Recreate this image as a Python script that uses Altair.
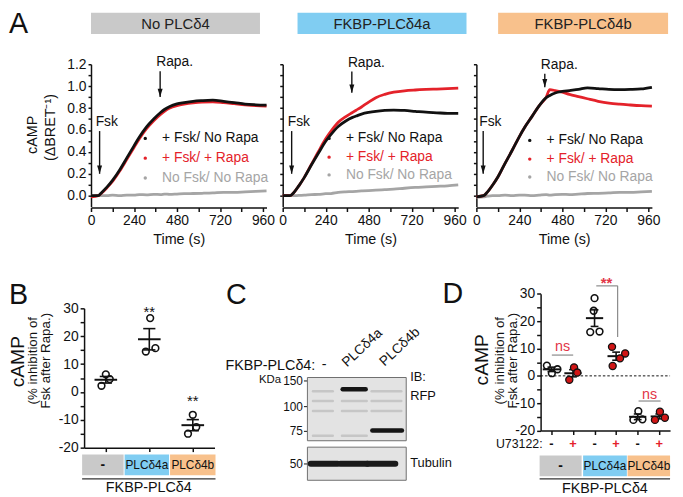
import altair as alt
import pandas as pd

FONT = "Liberation Sans"
W, H = 675, 489
ONE = alt.Data(values=[{"k": 0}])

BLACK = "#111111"
RED = "#e4222a"
LGRAY = "#a5a5a5"
BOX_GRAY = "#c9c9c9"
BOX_BLUE = "#80cdf2"
BOX_ORANGE = "#f8c18c"
FILL_RED = "#d01515"
SIG_RED = "#e23648"


def X(px):
    return px - 8


def Y(py):
    return py - 8


# ================= DATA =================
# Panel A: cAMP time courses (ΔBRET⁻¹) vs time (s)
time_s = [0, 40, 60, 90, 120, 160, 200, 240, 270, 310, 350, 390, 410, 440, 480, 520, 570, 620, 680, 740, 800, 860, 920, 980]
a1_fsk_norapa = [0.0, 0.0, 0.03, 0.08, 0.14, 0.235, 0.345, 0.455, 0.535, 0.628, 0.70, 0.762, 0.787, 0.815, 0.838, 0.85, 0.862, 0.868, 0.872, 0.862, 0.85, 0.836, 0.83, 0.827]
a1_fsk_rapa = [-0.01, 0.0, 0.025, 0.075, 0.13, 0.225, 0.332, 0.44, 0.52, 0.612, 0.685, 0.745, 0.77, 0.80, 0.822, 0.836, 0.848, 0.855, 0.857, 0.85, 0.84, 0.83, 0.822, 0.818]
a1_nofsk = [-0.005, 0.0, 0.0, 0.0, 0.005, 0.0, 0.005, 0.005, 0.01, 0.008, 0.012, 0.01, 0.015, 0.012, 0.015, 0.018, 0.02, 0.022, 0.025, 0.03, 0.03, 0.035, 0.04, 0.045]
a2_fsk_norapa = [0.0, 0.0, 0.025, 0.09, 0.165, 0.28, 0.39, 0.497, 0.56, 0.632, 0.68, 0.715, 0.727, 0.745, 0.76, 0.77, 0.778, 0.782, 0.778, 0.77, 0.762, 0.757, 0.752, 0.752]
a2_fsk_rapa = [0.0, 0.0, 0.025, 0.09, 0.165, 0.285, 0.405, 0.52, 0.59, 0.67, 0.72, 0.76, 0.78, 0.81, 0.855, 0.895, 0.925, 0.945, 0.958, 0.965, 0.97, 0.974, 0.978, 0.982]
a2_nofsk = [0.0, 0.0, 0.0, 0.003, 0.005, 0.01, 0.012, 0.018, 0.02, 0.03, 0.035, 0.038, 0.04, 0.043, 0.047, 0.05, 0.055, 0.06, 0.068, 0.075, 0.08, 0.085, 0.09, 0.098]
a3_fsk_norapa = [-0.01, 0.0, 0.03, 0.095, 0.17, 0.295, 0.415, 0.54, 0.625, 0.722, 0.82, 0.895, 0.915, 0.938, 0.952, 0.96, 0.97, 0.985, 0.978, 0.97, 0.968, 0.97, 0.975, 0.99]
a3_fsk_rapa = [-0.01, 0.0, 0.03, 0.095, 0.17, 0.295, 0.415, 0.54, 0.625, 0.722, 0.82, 0.90, 0.968, 0.96, 0.945, 0.925, 0.905, 0.885, 0.862, 0.845, 0.835, 0.828, 0.822, 0.818]
a3_nofsk = [-0.015, -0.01, -0.005, 0.0, 0.0, 0.005, 0.0, 0.005, 0.005, 0.0, 0.005, 0.01, 0.005, 0.01, 0.012, 0.01, 0.015, 0.02, 0.022, 0.025, 0.03, 0.03, 0.035, 0.04]

a_headers = ["No PLCδ4", "FKBP-PLCδ4a", "FKBP-PLCδ4b"]
series_names = ["+ Fsk/ No Rapa", "+ Fsk/ + Rapa", "No Fsk/ No Rapa"]
fsk_time = [48, 50, 38]
rapa_time = [386, 386, 382]
fsk_arrow_top = [0.59, 0.59, 0.59]
fsk_arrow_tip = [0.2, 0.2, 0.2]
rapa_arrow_top = [1.137, 1.134, 1.113]
rapa_arrow_tip = [0.90, 0.94, 0.99]
legend_t = [303, 259, 298]
legend_v = [[0.523, 0.343, 0.162], [0.523, 0.352, 0.19], [0.505, 0.334, 0.171]]

# Panel B: % inhibition, 3 groups
b_group = [0, 0, 0, 1, 1, 1, 2, 2, 2]
b_offset = [0.0, -0.10, 0.09, 0.02, -0.08, 0.14, 0.0, -0.11, 0.08]
b_value = [6.3, 2.2, 4.6, 26.5, 14.5, 15.7, -8.2, -15.0, -12.6]
b_sig_group = [1, 2]
b_sig_y = [29.8, -2.3]
box_labels = ["-", "PLCδ4a", "PLCδ4b"]

# Panel C: western blot (lane units 0-3, kDa)
c_ladder_kda = [75, 100, 150]
c_rfp_start = [1.07, 1.97]
c_rfp_end = [1.77, 2.87]
c_rfp_kda = [133, 75.3]
c_faint_start = [0.17, 0.17, 0.17, 0.17, 1.05, 1.05, 1.05, 1.95, 1.95, 1.95]
c_faint_end = [0.77, 0.77, 0.77, 0.77, 1.80, 1.80, 1.80, 2.85, 2.85, 2.85]
c_faint_kda = [129, 110, 95, 70.5, 110, 95, 70.5, 129, 110, 95]
c_tub_start = [0.10, 1.00, 1.82]
c_tub_end = [0.92, 1.82, 2.67]
c_tub_kda = [50, 50, 50]

# Panel D: % inhibition, 6 groups (-/+ U73122)
d_group = [0, 0, 0, 1, 1, 1, 2, 2, 2, 2, 3, 3, 3, 3, 4, 4, 4, 5, 5, 5]
d_offset = [-0.21, 0.02, 0.28, 0.05, -0.17, 0.20, 0.0, -0.04, -0.20, 0.23, -0.19, 0.42, 0.18, -0.16, 0.03, -0.20, 0.22, 0.03, -0.20, 0.26]
d_value = [3.75, 0.97, 2.42, 3.1, -1.44, 1.2, 28.4, 23.8, 16.0, 16.2, 10.6, 8.2, 6.4, 3.6, -12.9, -16.1, -15.9, -13.1, -16.1, -15.3]
d_u73122 = ["-", "+", "-", "+", "-", "+"]


# ================= HELPERS =================
def px_text(x, y, s, size, align="center", baseline="middle", color=BLACK, angle=0, weight="normal"):
    return alt.Chart(ONE).mark_text(
        text=s, font=FONT, fontSize=size, align=align, baseline=baseline,
        color=color, angle=angle, fontWeight=weight
    ).encode(x=alt.value(X(x)), y=alt.value(Y(y)))


def px_rect(x1, y1, x2, y2, fill):
    return alt.Chart(ONE).mark_rect(fill=fill).encode(
        x=alt.value(X(x1)), x2=alt.value(X(x2)), y=alt.value(Y(y1)), y2=alt.value(Y(y2)))


def px_rule(x1, y1, x2, y2, color, width):
    return alt.Chart(ONE).mark_rule(color=color, strokeWidth=width).encode(
        x=alt.value(X(x1)), x2=alt.value(X(x2)), y=alt.value(Y(y1)), y2=alt.value(Y(y2)))


ARROW = "M-0.6,-2L0.6,-2L0,0Z"
HYPHEN_LABEL = "datum.value % 10 === 0 ? '' + datum.value : ''"
layers = []

# ================= PANEL A =================
A_X0 = [92, 286, 482]
PX_PER_S = 174 / 960
a_curves = [
    (a1_fsk_norapa, a1_fsk_rapa, a1_nofsk),
    (a2_fsk_norapa, a2_fsk_rapa, a2_nofsk),
    (a3_fsk_norapa, a3_fsk_rapa, a3_nofsk),
]
header_boxes = [(92, 263), (301, 472), (504, 676)]
header_cols = [BOX_GRAY, BOX_BLUE, BOX_ORANGE]
for k in range(3):
    x1, x2 = header_boxes[k]
    layers.append(px_rect(x1, 10, x2, 31.5, header_cols[k]))
    layers.append(px_text((x1 + x2) / 2, 21, a_headers[k], 15, color="#222222"))

for k in range(3):
    x0 = A_X0[k]
    xs = alt.Scale(domain=[0, 980], range=[X(x0), X(x0) + 980 * PX_PER_S], nice=False, zero=False)
    ys = alt.Scale(domain=[-0.1, 1.2], range=[Y(206.1), Y(62)], nice=False, zero=False)
    xax = alt.Axis(orient="bottom", offset=Y(207) - H, values=list(range(0, 961, 120)),
                   labelExpr="datum.value % 240 === 0 ? datum.label : ''",
                   title="Time (s)", titlePadding=5, labelFlush=False, labelOverlap=False,
                   tickSize=4, labelPadding=2)
    yax = alt.Axis(orient="left", offset=-X(x0), values=[round(0.1 * i, 1) for i in range(13)],
                   labels=(k == 0), format=".1f",
                   labelExpr="round(datum.value * 10) % 2 === 0 ? datum.label : ''",
                   title=None, labelOverlap=False, tickSize=3, labelPadding=2)

    def XA(f):
        return alt.X(f, scale=xs, axis=xax)

    def YA(f):
        return alt.Y(f, scale=ys, axis=yax)

    sub = []
    black, red, gray = a_curves[k]
    for vals, col in [(gray, LGRAY), (red, RED), (black, BLACK)]:
        df = pd.DataFrame({"t": time_s, "v": vals})
        sub.append(alt.Chart(df).mark_line(color=col, strokeWidth=2.8, interpolate="monotone")
                   .encode(x=XA("t:Q"), y=YA("v:Q")))
    ev = pd.DataFrame({
        "t": [fsk_time[k], rapa_time[k]],
        "top": [fsk_arrow_top[k], rapa_arrow_top[k]],
        "tip": [fsk_arrow_tip[k], rapa_arrow_tip[k]],
        "label": ["Fsk", "Rapa."],
    })
    sub.append(alt.Chart(ev).mark_rule(color=BLACK, strokeWidth=1.4)
               .encode(x=XA("t:Q"), y=YA("top:Q"), y2="tip:Q"))
    sub.append(alt.Chart(ev).mark_point(shape=ARROW, filled=True, size=70, color=BLACK, opacity=1)
               .encode(x=XA("t:Q"), y=YA("tip:Q")))
    sub.append(alt.Chart(ev).mark_text(font=FONT, fontSize=14, align="left", baseline="middle",
                                       dx=-4, dy=-9, color=BLACK)
               .encode(x=XA("t:Q"), y=YA("top:Q"), text="label:N"))
    lg = pd.DataFrame({"t": [legend_t[k]] * 3, "v": legend_v[k], "label": series_names})
    cscale = alt.Scale(domain=series_names, range=[BLACK, RED, LGRAY])
    sub.append(alt.Chart(lg).mark_point(filled=True, size=12, opacity=1)
               .encode(x=XA("t:Q"), y=YA("v:Q"), color=alt.Color("label:N", scale=cscale, legend=None)))
    sub.append(alt.Chart(lg).mark_text(font=FONT, fontSize=14, align="left", baseline="middle", dx=17)
               .encode(x=XA("t:Q"), y=YA("v:Q"), text="label:N",
                       color=alt.Color("label:N", scale=cscale, legend=None)))
    layers.append(alt.layer(*sub))

layers.append(px_text(33, 133.5, "cAMP", 14.5, angle=270))
layers.append(px_text(52, 126, "(ΔBRET⁻¹)", 14.5, angle=270))
layers.append(px_text(9, 30, "A", 29, align="left", baseline="alphabetic"))


# ================= PANEL B / D helpers =================
def dot_panel(groups, offsets, values, xdom, xr, yr, mean_half, cap_half, red_odd):
    xs = alt.Scale(domain=xdom, range=[X(xr[0]), X(xr[1])], nice=False, zero=False)
    ys = alt.Scale(domain=[-20, 30], range=[Y(yr[0]), Y(yr[1])], nice=False, zero=False)
    ng = xdom[1] - xdom[0]
    xax = alt.Axis(orient="bottom", offset=Y(yr[0]) - H, values=list(range(int(ng))),
                   labels=False, title=None, tickSize=4)
    yax = alt.Axis(orient="left", offset=-X(xr[0]), values=list(range(-20, 31, 5)),
                   labelExpr=HYPHEN_LABEL,
                   title=None, labelOverlap=False, tickSize=4, labelPadding=2)

    def XA(f):
        return alt.X(f, scale=xs, axis=xax)

    def YA(f):
        return alt.Y(f, scale=ys, axis=yax)

    df = pd.DataFrame({"g": groups, "off": offsets, "v": values})
    stats = (alt.Chart(df)
             .transform_aggregate(m="mean(v)", se="stderr(v)", groupby=["g"])
             .transform_calculate(lo="datum.m - datum.se", hi="datum.m + datum.se",
                                  ml=f"datum.g - {mean_half}", mr=f"datum.g + {mean_half}",
                                  cl=f"datum.g - {cap_half}", cr=f"datum.g + {cap_half}"))
    sub = [
        stats.mark_rule(color=BLACK, strokeWidth=2).encode(x=XA("ml:Q"), x2="mr:Q", y=YA("m:Q")),
        stats.mark_rule(color=BLACK, strokeWidth=1.6).encode(x=XA("g:Q"), y=YA("lo:Q"), y2="hi:Q"),
        stats.mark_rule(color=BLACK, strokeWidth=1.6).encode(x=XA("cl:Q"), x2="cr:Q", y=YA("hi:Q")),
        stats.mark_rule(color=BLACK, strokeWidth=1.6).encode(x=XA("cl:Q"), x2="cr:Q", y=YA("lo:Q")),
    ]
    pts = alt.Chart(df).transform_calculate(xp="datum.g + datum.off")
    if red_odd:
        sub.append(pts.transform_filter("datum.g % 2 === 0")
                   .mark_point(shape="circle", filled=False, size=46, strokeWidth=1.6, color=BLACK, opacity=1)
                   .encode(x=XA("xp:Q"), y=YA("v:Q")))
        sub.append(pts.transform_filter("datum.g % 2 === 1")
                   .mark_point(shape="circle", filled=True, size=52, fill=FILL_RED, stroke=BLACK,
                               strokeWidth=1.3, opacity=1)
                   .encode(x=XA("xp:Q"), y=YA("v:Q")))
    else:
        sub.append(pts.mark_point(shape="circle", filled=False, size=46, strokeWidth=1.6, color=BLACK, opacity=1)
                   .encode(x=XA("xp:Q"), y=YA("v:Q")))
    return sub, XA, YA


# ================= PANEL B =================
subB, XB, YB = dot_panel(b_group, b_offset, b_value, [-0.5, 2.5], (85, 217), (450, 309),
                         0.26, 0.14, False)
sigB = pd.DataFrame({"g": b_sig_group, "y": b_sig_y, "s": ["**", "**"]})
subB.append(alt.Chart(sigB).mark_text(font=FONT, fontSize=15, baseline="alphabetic", dy=8, color=BLACK)
            .encode(x=XB("g:Q"), y=YB("y:Q"), text="s:N"))
layers.append(alt.layer(*subB))

for (x1, x2), col, lab in zip([(83, 125), (126, 171), (172, 218)], [BOX_GRAY, BOX_BLUE, BOX_ORANGE], box_labels):
    layers.append(px_rect(x1, 457, x2, 478, col))
    layers.append(px_text((x1 + x2) / 2, 467.5, lab, 12 if lab != "-" else 14, color=BLACK,
                          weight="bold" if lab == "-" else "normal"))
layers.append(px_rule(83, 481.5, 218, 481.5, "#333333", 1.2))
layers.append(px_text(150.5, 491, "FKBP-PLCδ4", 14.5))
layers.append(px_text(18.5, 363, "cAMP", 19.5, angle=270))
layers.append(px_text(33, 362, "(% inhibition of", 13.5, angle=270))
layers.append(px_text(46.5, 362, "Fsk after Rapa.)", 13.5, angle=270))
layers.append(px_text(9, 305, "B", 29, align="left", baseline="alphabetic"))

# ================= PANEL C =================
bx = alt.Scale(domain=[0, 3], range=[X(311), X(411)], nice=False, zero=False)
by1 = alt.Scale(domain=[66, 75, 100, 150, 155], range=[Y(443), Y(433), Y(408), Y(382), Y(379)],
                nice=False, zero=False)
by2 = alt.Scale(domain=[40, 60], range=[Y(483), Y(449.5)], nice=False, zero=False)
ax1 = alt.Axis(orient="left", offset=-X(311), values=c_ladder_kda, domain=False, tickSize=4,
               labelPadding=1, labelFontSize=12, title=None, tickWidth=1, labelOverlap=False)
ax2 = alt.Axis(orient="left", offset=-X(311), values=[50], domain=False, tickSize=4,
               labelPadding=1, labelFontSize=12, title=None, tickWidth=1)
frame1 = pd.DataFrame({"a": [0], "b": [3], "lo": [66], "hi": [155]})
frame2 = pd.DataFrame({"a": [0], "b": [3], "lo": [40], "hi": [60]})
faint = pd.DataFrame({"a": c_faint_start, "b": c_faint_end, "k": c_faint_kda})
rfp = pd.DataFrame({"a": c_rfp_start, "b": c_rfp_end, "k": c_rfp_kda})
tub = pd.DataFrame({"a": c_tub_start, "b": c_tub_end, "k": c_tub_kda})

blot1 = alt.layer(
    alt.Chart(frame1).mark_rect(fill="#e3e3e3", stroke="#6e6e6e", strokeWidth=1).encode(
        x=alt.X("a:Q", scale=bx, axis=None), x2="b:Q", y=alt.Y("lo:Q", scale=by1, axis=ax1), y2="hi:Q"),
    alt.Chart(faint).mark_rule(color="#c6c6c6", strokeWidth=2.5, strokeCap="round").encode(
        x=alt.X("a:Q", scale=bx, axis=None), x2="b:Q", y=alt.Y("k:Q", scale=by1, axis=ax1)),
    alt.Chart(rfp).mark_rule(color="#151515", strokeWidth=4.5, strokeCap="round").encode(
        x=alt.X("a:Q", scale=bx, axis=None), x2="b:Q", y=alt.Y("k:Q", scale=by1, axis=ax1)),
)
blot2 = alt.layer(
    alt.Chart(frame2).mark_rect(fill="#e3e3e3", stroke="#6e6e6e", strokeWidth=1).encode(
        x=alt.X("a:Q", scale=bx, axis=None), x2="b:Q", y=alt.Y("lo:Q", scale=by2, axis=ax2), y2="hi:Q"),
    alt.Chart(tub).mark_rule(color="#1a1a1a", strokeWidth=6, strokeCap="round").encode(
        x=alt.X("a:Q", scale=bx, axis=None), x2="b:Q", y=alt.Y("k:Q", scale=by2, axis=ax2)),
)
layers.append(blot1)
layers.append(blot2)
layers.append(px_text(228, 367, "FKBP-PLCδ4:", 14.5, align="left"))
layers.append(px_text(328, 366, "-", 14.5))
layers.append(px_text(351, 369, "PLCδ4a", 13.8, align="left", baseline="alphabetic", angle=317))
layers.append(px_text(389, 368, "PLCδ4b", 13.8, align="left", baseline="alphabetic", angle=317))
layers.append(px_text(262, 382, "KDa", 11.5, align="left"))
layers.append(px_text(415, 379, "IB:", 13, align="left"))
layers.append(px_text(415, 397.5, "RFP", 13, align="left"))
layers.append(px_text(415, 466, "Tubulin", 13, align="left"))
layers.append(px_text(228.5, 305, "C", 29, align="left", baseline="alphabetic"))

# ================= PANEL D =================
subD, XD, YD = dot_panel(d_group, d_offset, d_value, [-0.5, 5.5], (547, 678), (432.7, 294.3),
                         0.4, 0.18, True)
zero = pd.DataFrame({"a": [-0.5], "b": [5.5], "y": [0]})
subD.insert(0, alt.Chart(zero).mark_rule(color=BLACK, strokeWidth=1, strokeDash=[2.5, 2])
            .encode(x=XD("a:Q"), x2="b:Q", y=YD("y:Q")))
ns_lines = pd.DataFrame({"a": [0.02, 4.04], "b": [1.01, 5.06], "y": [7.6, -9.2]})
subD.append(alt.Chart(ns_lines).mark_rule(color="#8a8a8a", strokeWidth=1.2)
            .encode(x=XD("a:Q"), x2="b:Q", y=YD("y:Q")))
ns_txt = pd.DataFrame({"x": [0.52, 4.55], "y": [10.4, -6.9], "s": ["ns", "ns"]})
subD.append(alt.Chart(ns_txt).mark_text(font=FONT, fontSize=14.5, baseline="alphabetic", dy=4, color=SIG_RED)
            .encode(x=XD("x:Q"), y=YD("y:Q"), text="s:N"))
br_h = pd.DataFrame({"a": [2.08], "b": [3.07], "y": [32.9]})
br_v = pd.DataFrame({"x": [3.07], "y1": [32.9], "y2": [14.2]})
subD.append(alt.Chart(br_h).mark_rule(color="#8a8a8a", strokeWidth=1.2)
            .encode(x=XD("a:Q"), x2="b:Q", y=YD("y:Q")))
subD.append(alt.Chart(br_v).mark_rule(color="#8a8a8a", strokeWidth=1.2)
            .encode(x=XD("x:Q"), y=YD("y1:Q"), y2="y2:Q"))
star = pd.DataFrame({"x": [2.55], "y": [35.0], "s": ["**"]})
subD.append(alt.Chart(star).mark_text(font=FONT, fontSize=15, baseline="alphabetic", dy=8, color=SIG_RED,
                                      fontWeight="bold")
            .encode(x=XD("x:Q"), y=YD("y:Q"), text="s:N"))
signs = pd.DataFrame({"i": list(range(6)), "s": d_u73122})
subD.append(alt.Chart(signs).transform_filter("datum.s === '-'")
            .mark_text(font=FONT, fontSize=13, fontWeight="bold", color=BLACK)
            .encode(x=XD("i:Q"), y=alt.value(Y(446)), text="s:N"))
subD.append(alt.Chart(signs).transform_filter("datum.s === '+'")
            .mark_text(font=FONT, fontSize=13, fontWeight="bold", color=RED)
            .encode(x=XD("i:Q"), y=alt.value(Y(446)), text="s:N"))
layers.append(alt.layer(*subD))

layers.append(px_text(549, 446, "U73122:", 12.5, align="right"))
for (x1, x2), col, lab in zip([(546, 588.5), (590, 634.3), (635, 678)], [BOX_GRAY, BOX_BLUE, BOX_ORANGE], box_labels):
    layers.append(px_rect(x1, 458, x2, 479, col))
    layers.append(px_text((x1 + x2) / 2, 468.5, lab, 12 if lab != "-" else 14, color=BLACK,
                          weight="bold" if lab == "-" else "normal"))
layers.append(px_rule(546, 481.5, 678, 481.5, "#333333", 1.2))
layers.append(px_text(612, 491.5, "FKBP-PLCδ4", 14.5))
layers.append(px_text(488, 361, "cAMP", 19.5, angle=270))
layers.append(px_text(506, 362, "(% inhibition of", 13.5, angle=270))
layers.append(px_text(519.5, 362, "Fsk after Rapa.)", 13.5, angle=270))
layers.append(px_text(447.6, 304, "D", 29, align="left", baseline="alphabetic"))

# ================= ASSEMBLE =================
chart = (
    alt.layer(*layers)
    .resolve_scale(x="independent", y="independent")
    .resolve_axis(x="independent", y="independent")
    .properties(width=W, height=H, autosize=alt.AutoSizeParams(type="none"), padding=0,
                background="white")
    .configure_view(stroke=None)
    .configure_axis(domainColor=BLACK, domainWidth=1.5, tickColor=BLACK, tickWidth=1.5,
                    labelFont=FONT, labelFontSize=14, labelColor=BLACK,
                    titleFont=FONT, titleFontSize=14.5, titleFontWeight="normal", titleColor=BLACK,
                    grid=False)
)

chart.save("out.html", embed_options={"renderer": "svg", "actions": False})
